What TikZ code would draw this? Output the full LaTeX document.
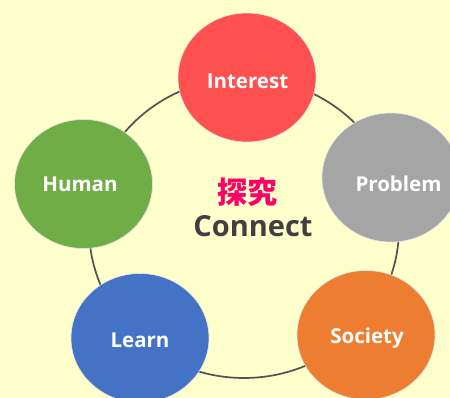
\documentclass[tikz,border=0pt]{standalone}
\usepackage{fontspec}
\setmainfont{Open Sans}
\newfontfamily\cjk{Noto Sans CJK JP}
\usetikzlibrary{shapes.geometric}
\begin{document}
\begin{tikzpicture}[x=1pt,y=-1pt,
  bubble/.style={ellipse, minimum width=138pt, minimum height=129pt, inner sep=0pt, draw=white!80!gray, line width=0.6pt},
  lbl/.style={text=white, inner sep=0pt, font=\bfseries\fontsize{20.5}{24}\selectfont},
  ring/.style={draw=black!68, line width=1.7pt}]
\fill[fill={rgb,255:red,255;green,255;blue,204}] (0,0) rectangle (450,398);
\useasboundingbox (0,0) rectangle (450,398);
\coordinate (rc) at (244,228);
\draw[ring] (rc) ellipse [x radius=155, y radius=150];
\node[bubble, fill={rgb,255:red,255;green,80;blue,80}] (interest) at (247,77.5) {};
\node[bubble, fill={rgb,255:red,112;green,173;blue,71}] (human) at (83.5,184) {};
\node[bubble, fill={rgb,255:red,165;green,165;blue,165}] (problem) at (391,177.5) {};
\node[bubble, fill={rgb,255:red,68;green,114;blue,196}] (learn) at (140,338) {};
\node[bubble, fill={rgb,255:red,237;green,125;blue,49}] (society) at (366,335) {};
\node[lbl] (interestT) at (247.5,81) {Interest};
\node[lbl] (humanT) at (80,184.5) {Human};
\node[lbl] (problemT) at (398.5,183.5) {Problem};
\node[lbl] (learnT) at (140,340.5) {Learn};
\node[lbl] (societyT) at (367,338.5) {Society};
\node[text={rgb,255:red,255;green,0;blue,102}, font=\cjk\bfseries\fontsize{30}{33}\selectfont] (tanq) at (247,192) {探究};
\node[text={rgb,255:red,64;green,64;blue,64}, font=\bfseries\fontsize{29}{34}\selectfont] (connect) at (253,226) {Connect};
\end{tikzpicture}
\end{document}
